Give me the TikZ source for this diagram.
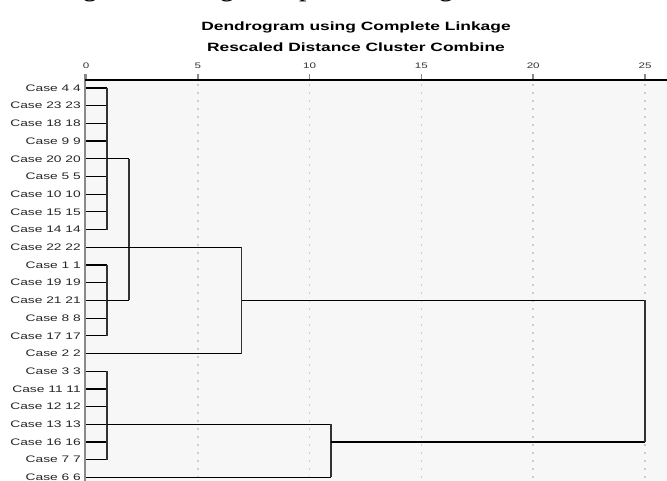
\documentclass[tikz,border=0pt]{standalone}
\usepackage{graphicx}
\usepackage{fontspec}
\setmainfont{Liberation Sans}
\newfontfamily\capserif{Liberation Serif}
\definecolor{plotbg}{HTML}{F7F7F7}
\definecolor{gridgrey}{HTML}{CCCCCC}
\definecolor{axisgrey}{HTML}{8A8A8A}
\newcommand{\wtext}[1]{\scalebox{1.45}[1]{#1}}
\tikzset{
  lbl/.style={anchor=east, inner sep=0pt, font=\fontsize{9.5}{10}\selectfont, text=black!85},
  ticklbl/.style={anchor=base, inner sep=0pt, font=\fontsize{8}{9}\selectfont, text=black!80},
  ttl/.style={inner sep=0pt, font=\bfseries\fontsize{12}{13}\selectfont},
  capglyph/.style={anchor=base, inner sep=0pt, font=\capserif\fontsize{30}{30}\selectfont},
  tree/.style={draw=black, line width=1.2pt},
  vline/.style={draw=black!80, line width=1.7pt},
  gridline/.style={draw=gridgrey, line width=1.6pt, dash pattern=on 2pt off 6pt},
}
\begin{document}
\begin{tikzpicture}[x=1pt,y=-1pt]
\useasboundingbox (0,0) rectangle (667,481);
\begin{scope}
\clip (0,0) rectangle (667,481);
% cut-off caption line above the figure
\node[capglyph] (cg1) at (90,-4) {g};
\node[capglyph] (cg2) at (227,-4) {g};
\node[capglyph] (cg3) at (306.5,-4) {p};
\node[capglyph] (cg4) at (446,-4) {g};
% plot background
\fill[plotbg] (85,80) rectangle (667,481);
% grid lines and ticks
\foreach \k [count=\j] in {0,5,10,15,20,25} {
  \pgfmathsetmacro{\gx}{86+22.36*\k}
  \node[ticklbl] (t\j) at (\gx,69) {\wtext{\k}};
  \draw[axisgrey, line width=1.6pt] (\gx,74) -- (\gx,80);
}
\foreach \k in {5,10,15,20,25} {
  \pgfmathsetmacro{\gx}{86+22.36*\k}
  \draw[gridline] (\gx,84) -- (\gx,481);
}
% axes
\draw[axisgrey, line width=2pt] (84.5,74) -- (84.5,481);
\draw[black, line width=1.2pt] (85,80) -- (667,80);
\end{scope}
% titles
\node[ttl] (title) at (356,27) {\wtext{Dendrogram using Complete Linkage}};
\node[ttl] (subtitle) at (356,47) {\wtext{Rescaled Distance Cluster Combine}};
% leaves
\foreach \t [count=\n from 0] in {4 4,23 23,18 18,9 9,20 20,5 5,10 10,15 15,14 14,22 22,1 1,19 19,21 21,8 8,17 17,2 2,3 3,11 11,12 12,13 13,16 16,7 7,6 6} {
  \node[lbl] (l\n) at (81,{88+17.7*\n}) {\wtext{Case \t}};
  \coordinate (p\n) at (86,{88+17.7*\n});
}
% merge levels
\coordinate (xA) at (107,0);
\coordinate (xB) at (129,0);
\coordinate (xC) at (241.5,0);
\coordinate (xD) at (331,0);
\coordinate (xE) at (645,0);
% cluster A
\foreach \i in {0,...,8} \draw[tree] (p\i) -- (p\i -| xA);
\draw[vline] (p0 -| xA) -- (p8 -| xA);
\draw[tree] (p4 -| xA) -- (p4 -| xB);
% cluster B
\foreach \i in {10,...,14} \draw[tree] (p\i) -- (p\i -| xA);
\draw[vline] (p10 -| xA) -- (p14 -| xA);
\draw[tree] (p12 -| xA) -- (p12 -| xB);
% A + B
\draw[vline] (p4 -| xB) -- (p12 -| xB);
% case 22 / AB output and case 2
\draw[tree] (p9) -- (p9 -| xC);
\draw[tree] (p15) -- (p15 -| xC);
\draw[vline] (p9 -| xC) -- (p15 -| xC);
\draw[tree] (p12 -| xC) -- (p12 -| xE);
% cluster C
\foreach \i in {16,...,21} \draw[tree] (p\i) -- (p\i -| xA);
\draw[vline] (p16 -| xA) -- (p21 -| xA);
\draw[tree] (p19 -| xA) -- (p19 -| xD);
\draw[tree] (p22) -- (p22 -| xD);
\draw[vline] (p19 -| xD) -- (p22 -| xD);
\draw[tree] (p20 -| xD) -- (p20 -| xE);
% final merge
\draw[vline] (p12 -| xE) -- (p20 -| xE);
\end{tikzpicture}
\end{document}
